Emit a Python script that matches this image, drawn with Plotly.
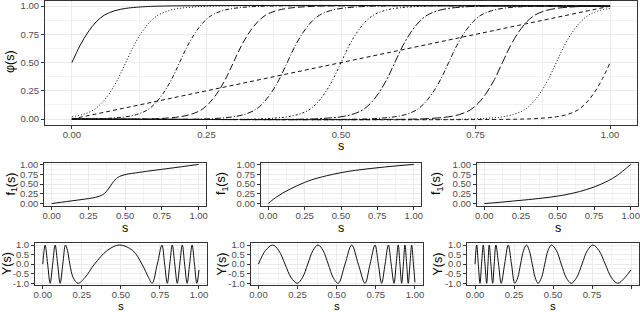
import plotly.graph_objects as go

W, H = 640, 312

# ---------------- data ----------------
X_TICKS = [0.0, 0.25, 0.5, 0.75, 1.0]
X_TICK_TEXT = ["0.00", "0.25", "0.50", "0.75", "1.00"]
Y01_TICKS = [0.0, 0.25, 0.5, 0.75, 1.0]
Y01_TICK_TEXT = ["0.00", "0.25", "0.50", "0.75", "1.00"]
YW_TICKS = [-1.0, -0.5, 0.0, 0.5, 1.0]
YW_TICK_TEXT = ["-1.0", "-0.5", "0.0", "0.5", "1.0"]

# top panel: sigmoid family phi(s) -- centres and common profile
PHI_CENTERS = [0.0, 0.1, 0.2, 0.3, 0.4, 0.5, 0.6, 0.7, 0.8, 0.9, 1.0]
SIG_DX = [-0.16, -0.12, -0.10, -0.08, -0.06, -0.045, -0.03, -0.015, 0.0,
          0.015, 0.03, 0.045, 0.06, 0.08, 0.10, 0.12, 0.16]
SIG_Y = [0.0, 0.01, 0.02, 0.04, 0.08, 0.14, 0.23, 0.35, 0.5,
         0.65, 0.77, 0.86, 0.92, 0.96, 0.98, 0.99, 1.0]
LIN_S = [0.0, 1.0]
LIN_PHI = [0.0, 1.0]

# middle row: warping functions
F1_S = [0.0, 0.1, 0.2, 0.3, 0.34, 0.36, 0.38, 0.40, 0.42, 0.44, 0.46, 0.5, 0.6, 0.8, 1.0]
F1 = [0.0, 0.05, 0.10, 0.16, 0.21, 0.26, 0.345, 0.45, 0.555, 0.635, 0.69, 0.74, 0.80, 0.90, 1.0]
F2_S = [0.0, 0.025, 0.05, 0.1, 0.15, 0.2, 0.25, 0.3, 0.4, 0.5, 0.6, 0.7, 0.8, 0.9, 1.0]
F2 = [0.0, 0.08, 0.15, 0.27, 0.37, 0.46, 0.54, 0.61, 0.71, 0.79, 0.85, 0.895, 0.935, 0.97, 1.0]
F3_S = [0.0, 0.1, 0.2, 0.3, 0.4, 0.5, 0.6, 0.7, 0.8, 0.9, 1.0]
F3 = [0.0, 0.03, 0.065, 0.10, 0.14, 0.19, 0.26, 0.36, 0.50, 0.70, 1.0]

# bottom row: warped sine signals (extrema, zero crossings, shoulders)
Y1_S = [0.0, 0.008, 0.015, 0.031, 0.047, 0.063, 0.079, 0.095, 0.111, 0.128, 0.145,
        0.158, 0.173, 0.195, 0.226, 0.269, 0.331, 0.412, 0.490, 0.576, 0.635, 0.678,
        0.700, 0.733, 0.763, 0.780, 0.797, 0.813, 0.829, 0.845, 0.861, 0.877, 0.893,
        0.908, 0.924, 0.940, 0.956, 0.971, 0.986, 1.0]
Y1 = [0.0, 0.71, 1.0, 0.0, -1.0, 0.0, 1.0, 0.0, -1.0, 0.0, 1.0,
      0.71, 0.0, -0.71, -1.0, -0.71, 0.0, 0.71, 1.0, 0.71, 0.0, -0.71,
      -1.0, 0.0, 1.0, 0.0, -1.0, 0.0, 1.0, 0.0, -1.0, 0.0, 1.0,
      0.0, -1.0, 0.0, 1.0, 0.0, -1.0, -0.3]
Y2_S = [0.0, 0.045, 0.091, 0.13, 0.170, 0.209, 0.248, 0.281, 0.315, 0.348, 0.381,
        0.413, 0.446, 0.478, 0.510, 0.553, 0.596, 0.638, 0.681, 0.713, 0.745, 0.766,
        0.787, 0.809, 0.830, 0.848, 0.866, 0.880, 0.893, 0.904, 0.915, 0.926, 0.936,
        0.947, 0.957, 0.968, 0.979, 0.990, 1.0]
Y2 = [0.0, 0.71, 1.0, 0.71, 0.0, -0.71, -1.0, -0.71, 0.0, 0.71, 1.0,
      0.71, 0.0, -0.71, -1.0, 0.0, 1.0, 0.0, -1.0, 0.0, 1.0, 0.0,
      -1.0, 0.0, 1.0, 0.0, -1.0, 0.0, 1.0, 0.0, -1.0, 0.0, 1.0,
      0.0, -1.0, 0.0, 1.0, 0.0, -0.95]
Y3_S = [0.0, 0.011, 0.021, 0.032, 0.042, 0.053, 0.064, 0.075, 0.083, 0.091, 0.102,
        0.113, 0.123, 0.134, 0.151, 0.168, 0.190, 0.213, 0.234, 0.255, 0.274, 0.292,
        0.311, 0.330, 0.348, 0.367, 0.386, 0.404, 0.426, 0.447, 0.468, 0.490, 0.522,
        0.553, 0.585, 0.617, 0.651, 0.686, 0.720, 0.755, 0.795, 0.835, 0.875, 0.915,
        0.960, 1.0]
Y3 = [0.0, 1.0, 0.0, -1.0, 0.0, 1.0, 0.0, -1.0, 0.0, 1.0, 0.0,
      -1.0, 0.0, 1.0, 0.0, -1.0, 0.0, 1.0, 0.0, -1.0, -0.71, 0.0,
      0.71, 1.0, 0.71, 0.0, -0.71, -1.0, -0.71, 0.0, 0.71, 1.0, 0.71,
      0.0, -0.71, -1.0, -0.71, 0.0, 0.71, 1.0, 0.71, 0.0, -0.71, -1.0,
      -0.71, -0.3]

# ---------------- styles ----------------
FONT = "Liberation Sans, Arial, Helvetica, sans-serif"
TICK_COL = "#4D4D4D"
BORDER = "#333333"
GRID = "#EBEBEB"
MINOR = "#F3F3F3"
LINE_COL = "#111111"
PHI_DASHES = ["solid", "1px,2px", "4px,2px,1px,2px", "7px,3px", "6px,2px,1px,2px",
              "2px,2px,1px,2px", "8px,2px,2px,2px", "5px,2px,1px,2px", "9px,3px",
              "1px,2px", "4px,3px"]

fig = go.Figure()


def xd(a, b):
    return [a / W, b / W]


def yd(top, bottom):
    return [1 - bottom / H, 1 - top / H]


# panel geometry in pixels: (left, right, top, bottom, kind)
panels = [
    (45, 637, 0.5, 124.7, "phi"),
    (44.3, 206, 162.5, 205.5, "f"),
    (261, 421, 162.5, 205.5, "f"),
    (477, 638, 162.5, 205.5, "f"),
    (35, 206.8, 243.1, 285.2, "y"),
    (250.6, 422.8, 243.1, 285.2, "y"),
    (467.2, 638.8, 243.1, 285.2, "y"),
]

layout_axes = {}
for i, (l, r, t, b, kind) in enumerate(panels):
    n = "" if i == 0 else str(i + 1)
    common = dict(showline=True, mirror=True, linecolor=BORDER, linewidth=1,
                  ticks="outside", ticklen=3, tickwidth=1, tickcolor=BORDER,
                  showgrid=True, gridcolor=GRID, gridwidth=1, zeroline=False,
                  automargin=False,
                  tickfont=dict(family=FONT, size=9.5, color=TICK_COL))
    layout_axes["xaxis" + n] = dict(
        domain=xd(l, r), anchor="y" + n, range=[-0.05, 1.05],
        tickvals=X_TICKS, ticktext=X_TICK_TEXT,
        ticklabelstandoff=-3 if kind == "y" else -2,
        minor=dict(tickvals=[0.125, 0.375, 0.625, 0.875], showgrid=True,
                   gridcolor=MINOR, gridwidth=1, ticks=""),
        **common)
    if kind == "y":
        yax = dict(range=[-1.1, 1.1], tickvals=YW_TICKS, ticktext=YW_TICK_TEXT,
                   minor=dict(tickvals=[-0.75, -0.25, 0.25, 0.75], showgrid=True,
                              gridcolor=MINOR, gridwidth=1, ticks=""))
    else:
        yax = dict(range=[-0.05, 1.05], tickvals=Y01_TICKS, ticktext=Y01_TICK_TEXT,
                   minor=dict(tickvals=[0.125, 0.375, 0.625, 0.875], showgrid=True,
                              gridcolor=MINOR, gridwidth=1, ticks=""))
    layout_axes["yaxis" + n] = dict(domain=yd(t, b), anchor="x" + n, **yax, **common)


def add(xs, ys, i, dash="solid", width=1.0, spline=True):
    n = "" if i == 0 else str(i + 1)
    fig.add_trace(go.Scatter(
        x=xs, y=ys, mode="lines", xaxis="x" + n, yaxis="y" + n,
        line=dict(color=LINE_COL, width=width, dash=dash,
                  shape="spline" if spline else "linear", smoothing=1.0),
        hoverinfo="skip", showlegend=False))


# top panel curves
for c, dash in zip(PHI_CENTERS, PHI_DASHES):
    xs, ys = [], []
    for dx, v in zip(SIG_DX, SIG_Y):
        s = round(c + dx, 6)
        if 0.0 <= s <= 1.0:
            xs.append(s)
            ys.append(v)
    if xs[0] > 0.0:
        xs.insert(0, 0.0)
        ys.insert(0, SIG_Y[0])
    if xs[-1] < 1.0:
        xs.append(1.0)
        ys.append(SIG_Y[-1])
    add(xs, ys, 0, dash=dash, width=1.0)
add(LIN_S, LIN_PHI, 0, dash="4px,3px", width=1.0, spline=False)

add(F1_S, F1, 1)
add(F2_S, F2, 2)
add(F3_S, F3, 3)
add(Y1_S, Y1, 4)
add(Y2_S, Y2, 5)
add(Y3_S, Y3, 6)

# axis titles as annotations
ann = []


def title(text, x, y, angle=0, size=12.5):
    ann.append(dict(text=text, x=x / W, y=1 - y / H, xref="paper", yref="paper",
                    showarrow=False, textangle=angle, xanchor="center", yanchor="middle",
                    borderpad=0,
                    font=dict(family=FONT, size=size, color="#000000")))


title("φ(s)", 10, 62, -90, 12.5)
title("s", 341, 146)
for xc, yt in [(11.5, 184), (222, 184), (437, 184)]:
    title("f<sub>1</sub>(s)", xc, yt, -90, 12.5)
for xc in [125, 341, 557.5]:
    title("s", xc, 228)
for xc in [7, 221.5, 437.5]:
    title("Y(s)", xc, 264, -90, 12.5)
for xc in [121, 337, 553]:
    title("s", xc, 305.5, 0, 11.5)

fig.update_layout(
    width=W, height=H,
    margin=dict(l=0, r=0, t=0, b=0, pad=0, autoexpand=False),
    paper_bgcolor="white", plot_bgcolor="white", showlegend=False,
    annotations=ann, **layout_axes)

fig.write_html(
    "out.html",
    config={"displayModeBar": False},
    post_script="document.body.style.margin='0';document.body.style.padding='0';"
                "document.documentElement.style.overflow='hidden';")
